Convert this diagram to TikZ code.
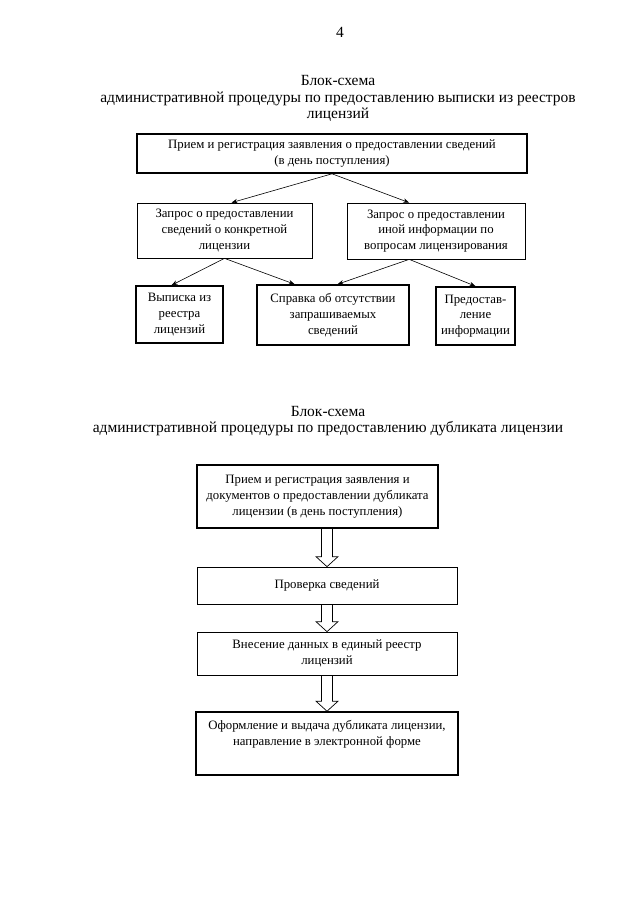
\documentclass[tikz,border=0pt]{standalone}
\usepackage{fontspec}
\setmainfont{Liberation Serif}
\usetikzlibrary{calc,arrows.meta}
\newcommand{\blockfont}{\fontsize{12.8}{15.8}\selectfont}
\newcommand{\headfont}{\fontsize{15.5}{16.8}\selectfont}
\newcommand{\hollowarrow}[2]{%
	\draw[fatarrow] ([xshift=-5.5pt]#2.north |- #1.south) -- ([xshift=-5.5pt,yshift=10pt]#2.north)
		-- ([xshift=-11pt,yshift=10pt]#2.north) -- (#2.north) -- ([xshift=11pt,yshift=10pt]#2.north)
		-- ([xshift=5.5pt,yshift=10pt]#2.north) -- ([xshift=5.5pt]#2.north |- #1.south);}

\begin{document}
\begin{tikzpicture}[x=1pt,y=-1pt,
		>={Stealth[length=6pt,width=4.5pt]},
		box/.style={draw,align=center,inner sep=2pt,font=\blockfont},
		thinbox/.style={box,line width=0.7pt},
		boldbox/.style={box,line width=1.6pt},
		head/.style={align=center,font=\headfont},
		link/.style={->,line width=0.6pt},
		fatarrow/.style={line width=0.7pt,line join=miter}]
			\useasboundingbox (0,0) rectangle (640,905);
			\node[head] (page) at (340,32) {4};
			\node[head] (title1) at (338,98.5) {Блок-схема\\административной процедуры по предоставлению выписки из реестров\\лицензий};
			\node[boldbox,minimum width=390,minimum height=39] (recv) at (332,153.5) {Прием и регистрация заявления о предоставлении сведений\\(в день поступления)};
			\node[thinbox,minimum width=175,minimum height=55] (reqlic) at (224.5,230.5) {Запрос о предоставлении\\сведений о конкретной\\лицензии};
			\node[thinbox,minimum width=178,minimum height=56] (reqinfo) at (436,231) {Запрос о предоставлении\\иной информации по\\вопросам лицензирования};
			\node[boldbox,minimum width=87,minimum height=57] (extract) at (179.5,314.5) {Выписка из\\реестра\\лицензий};
			\node[boldbox,minimum width=152,minimum height=60] (absent) at (333,315) {Справка об отсутствии\\запрашиваемых\\сведений};
			\node[boldbox,minimum width=79,minimum height=58,inner sep=1pt] (provide) at (475.5,316) {Предостав-\\ление\\информации};
			\coordinate (reqlic-in) at ($(reqlic.north west)!0.54!(reqlic.north east)$);
			\coordinate (reqinfo-in) at ($(reqinfo.north west)!0.35!(reqinfo.north east)$);
			\coordinate (reqinfo-out) at ($(reqinfo.south west)!0.35!(reqinfo.south east)$);
			\coordinate (extract-in) at ($(extract.north west)!0.41!(extract.north east)$);
			\coordinate (absent-l) at ($(absent.north west)!0.25!(absent.north east)$);
			\coordinate (absent-r) at ($(absent.north west)!0.53!(absent.north east)$);
			\draw[link] (recv.south) -- (reqlic-in);
			\draw[link] (recv.south) -- (reqinfo-in);
			\draw[link] (reqlic.south) -- (extract-in);
			\draw[link] (reqlic.south) -- (absent-l);
			\draw[link] (reqinfo-out) -- (absent-r);
			\draw[link] (reqinfo-out) -- (provide.north);
			\node[head] (title2) at (328,421) {Блок-схема\\административной процедуры по предоставлению дубликата лицензии};
			\node[boldbox,minimum width=241,minimum height=63] (dupin) at (317.5,496.5) {Прием и регистрация заявления и\\документов о предоставлении дубликата\\лицензии (в день поступления)};
			\node[thinbox,minimum width=260,minimum height=37] (check) at (327,585.5) {Проверка сведений};
			\node[thinbox,minimum width=260,minimum height=43] (enter) at (327,653.5) {Внесение данных в единый реестр\\лицензий};
			\node[boldbox,minimum width=262,minimum height=63] (issue) at (327,743.5) {Оформление и выдача дубликата лицензии,\\направление в электронной форме\\\strut};
			\hollowarrow{dupin}{check}
			\hollowarrow{check}{enter}
			\hollowarrow{enter}{issue}
		\end{tikzpicture}
\end{document}
